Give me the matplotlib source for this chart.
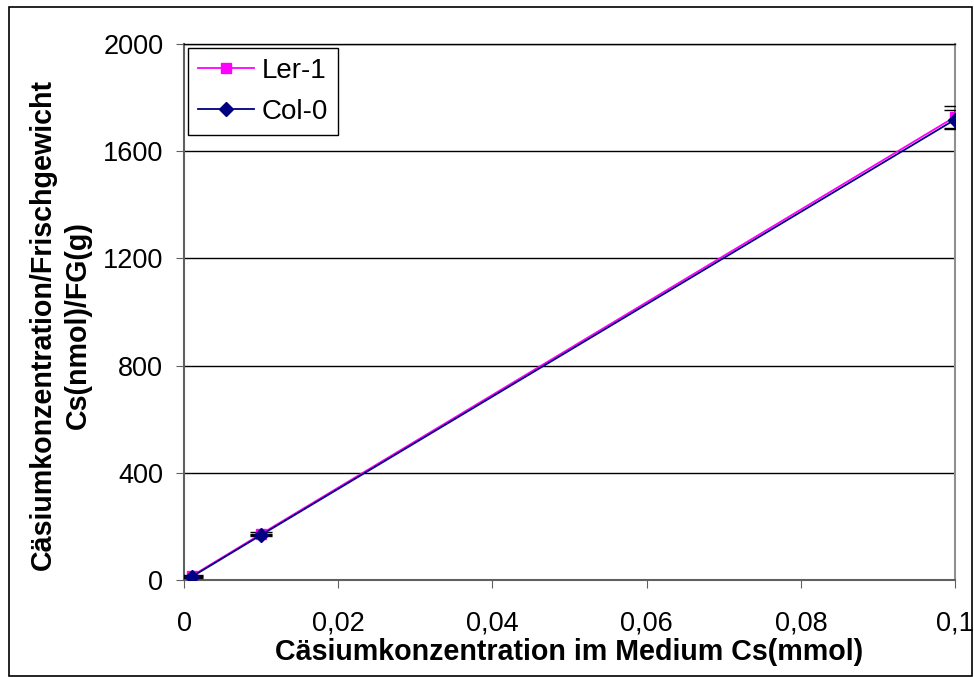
import matplotlib
matplotlib.use("Agg")
import matplotlib.pyplot as plt
from matplotlib.lines import Line2D
from matplotlib.patches import Rectangle
from matplotlib.ticker import FuncFormatter

plt.rcParams['font.family'] = ['Liberation Sans', 'DejaVu Sans']

# Cs im Medium (mmol) und Cs-Gehalt pro Frischgewicht (nmol/g)
cs_medium = [0.001, 0.01, 0.1]
ler1 = [15, 172, 1728]
ler1_err = [4, 6, 42]
col0 = [12, 168, 1718]
col0_err = [3, 5, 36]

ler_color = '#FF00FF'
col_color = '#000080'

fig = plt.figure(figsize=(9.74, 6.77), dpi=100)
ax = fig.add_axes([0.189, 0.1433, 0.7915, 0.7917])

ax.errorbar(cs_medium, ler1, yerr=ler1_err, color=ler_color, marker='s', markersize=7.5,
            ecolor='black', elinewidth=1, capsize=8, capthick=1, lw=1.3, zorder=3)
ax.errorbar(cs_medium, col0, yerr=col0_err, color=col_color, marker='D', markersize=7.5,
            ecolor='black', elinewidth=1, capsize=8, capthick=1, lw=1.3, zorder=4)

ax.set_xlim(0, 0.1)
ax.set_ylim(0, 2000)
ax.set_xticks([0, 0.02, 0.04, 0.06, 0.08, 0.1])
ax.set_yticks([0, 400, 800, 1200, 1600, 2000])
ax.xaxis.set_major_formatter(FuncFormatter(lambda v, p: '0' if v == 0 else ('%g' % round(v, 2)).replace('.', ',')))
ax.tick_params(axis='both', labelsize=19.5, direction='out', length=6, color='#606060')
ax.tick_params(axis='x', pad=16)
ax.tick_params(axis='y', pad=9)

ax.yaxis.grid(True, color='black', lw=1)
ax.set_axisbelow(True)
for side in ('left', 'bottom'):
    ax.spines[side].set_color('#606060')
    ax.spines[side].set_linewidth(1.5)
ax.spines['top'].set_color('black')
ax.spines['top'].set_linewidth(1)
ax.spines['right'].set_color('#909090')
ax.spines['right'].set_linewidth(1.5)

ax.set_xlabel('Cäsiumkonzentration im Medium Cs(mmol)', fontsize=20.6, fontweight='bold', labelpad=1)
ax.set_ylabel('Cäsiumkonzentration/Frischgewicht\nCs(nmol)/FG(g)', fontsize=20.6,
              fontweight='bold', linespacing=1.3)
ax.yaxis.set_label_coords(-0.12, 0.476)

handles = [
    Line2D([], [], color=ler_color, marker='s', markersize=7.5, lw=1.3),
    Line2D([], [], color=col_color, marker='D', markersize=7.5, lw=1.3),
]
leg = ax.legend(handles, ['Ler-1', 'Col-0'], loc='upper left', fontsize=20, fancybox=False,
                edgecolor='black', framealpha=1, borderaxespad=0.15, handlelength=2.0,
                handletextpad=0.3, borderpad=0.35, labelspacing=0.55)
leg.get_frame().set_linewidth(1)

fig.patches.append(Rectangle((0.009, 0.002), 0.989, 0.987, transform=fig.transFigure,
                             fill=False, edgecolor='black', lw=1.2))

fig.savefig('out.png', dpi=100)
